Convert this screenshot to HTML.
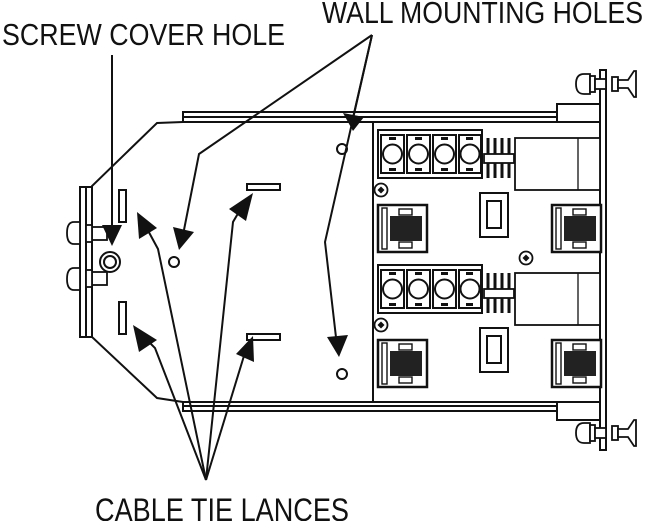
<!DOCTYPE html>
<html><head><style>
html,body{margin:0;padding:0;background:#fff;width:646px;height:521px;overflow:hidden}
svg{display:block}
text{font-family:"Liberation Sans",Arial,sans-serif;fill:#111}
</style></head><body>
<svg width="646" height="521" viewBox="0 0 646 521" xmlns="http://www.w3.org/2000/svg">
<defs>
<g id="term">
  <rect x="0" y="0" width="104" height="48" fill="#fff" stroke="#111" stroke-width="2"/>
  <g stroke="#111" stroke-width="2" fill="#fff">
    <rect x="3" y="5" width="23" height="38"/><circle cx="14.5" cy="24" r="9.5"/>
    <rect x="29" y="5" width="23" height="38"/><circle cx="40.5" cy="24" r="9.5"/>
    <rect x="55" y="5" width="23" height="38"/><circle cx="66.5" cy="24" r="9.5"/>
    <rect x="81" y="5" width="22" height="38"/><circle cx="92" cy="24" r="9.5"/>
  </g>
  <g fill="#111">
    <rect x="11" y="7" width="7" height="3"/><rect x="11" y="38" width="7" height="3"/>
    <rect x="37" y="7" width="7" height="3"/><rect x="37" y="38" width="7" height="3"/>
    <rect x="63" y="7" width="7" height="3"/><rect x="63" y="38" width="7" height="3"/>
    <rect x="88" y="7" width="7" height="3"/><rect x="88" y="38" width="7" height="3"/>
  </g>
  <g stroke="#111" stroke-width="3">
    <line x1="110" y1="8" x2="110" y2="48"/><line x1="117" y1="8" x2="117" y2="48"/>
    <line x1="124" y1="8" x2="124" y2="48"/><line x1="131" y1="8" x2="131" y2="48"/>
  </g>
  <rect x="106" y="24" width="30" height="9" fill="#fff" stroke="#111" stroke-width="1.8"/>
  <rect x="137" y="8" width="85" height="52" fill="#fff" stroke="#111" stroke-width="1.8"/>
  <line x1="200" y1="8" x2="200" y2="60" stroke="#111" stroke-width="1.3"/>
</g>
<g id="jack">
  <rect x="0" y="0" width="49" height="47" fill="#fff" stroke="#111" stroke-width="2.5"/>
  <rect x="4" y="3" width="5" height="41" fill="none" stroke="#111" stroke-width="1.4"/>
  <rect x="12" y="11" width="32" height="25" fill="#222"/>
  <rect x="21" y="4" width="13" height="6" fill="#fff" stroke="#111" stroke-width="1.4"/>
  <rect x="21" y="37" width="13" height="6" fill="#fff" stroke="#111" stroke-width="1.4"/>
</g>
<g id="knob" stroke="#111" stroke-width="1.8" fill="#fff">
  <path d="M-16 -10 l-6 0 q-8 0 -8 10 q0 10 8 10 l6 0 z"/>
  <rect x="-16" y="-8" width="5" height="16"/>
  <rect x="-11" y="-5" width="11" height="10"/>
  <rect x="6" y="-7" width="6" height="14"/>
  <path d="M12 -4 l10 0 l6 -9 l2 0 l0 26 l-2 0 l-6 -9 l-10 0 z"/>
</g>
<g id="screw"><circle r="6.5" fill="#fff" stroke="#111" stroke-width="1.8"/><path d="M0 -3.5 L3.5 0 L0 3.5 L-3.5 0Z" fill="#111"/></g>
</defs>

<g fill="none" stroke="#111" stroke-width="2">
  <rect x="183" y="112" width="375" height="5" fill="#fff"/>
  <line x1="183" y1="122" x2="600" y2="122"/>
  <rect x="183" y="406" width="375" height="5" fill="#fff"/>
  <line x1="183" y1="402" x2="600" y2="402"/>
  <rect x="557" y="104" width="43" height="18" fill="#fff"/>
  <rect x="557" y="402" width="43" height="18" fill="#fff"/>
  <path d="M183 122 L157 123 L92 186 L92 337 L157 398 L183 402" />
  <line x1="183" y1="112" x2="183" y2="122"/><line x1="183" y1="402" x2="183" y2="411"/>
  <rect x="80" y="187" width="12" height="150" fill="#fff"/>
  <line x1="86" y1="187" x2="86" y2="337"/>
  <line x1="373" y1="122" x2="373" y2="402"/>
  <rect x="600" y="70" width="6" height="380" fill="#fff"/>
  <circle cx="342" cy="149" r="5"/>
  <circle cx="174" cy="262" r="5"/>
  <circle cx="342" cy="374" r="5"/>
  <rect x="247" y="184" width="33" height="6"/>
  <rect x="247" y="334" width="33" height="6"/>
  <rect x="119" y="190" width="7" height="32"/>
  <rect x="119" y="302" width="7" height="32"/>
  <circle cx="110" cy="262" r="10"/><circle cx="110" cy="262" r="6"/>
</g>
<g stroke="#111" stroke-width="1.8" fill="#fff">
  <path d="M80 222 l-6 0 q-7 0 -7 11 q0 11 7 11 l6 0z"/>
  <rect x="92" y="227" width="15" height="13"/>
  <rect x="86" y="225" width="6" height="17"/>
  <path d="M80 268 l-6 0 q-7 0 -7 11 q0 11 7 11 l6 0z"/>
  <rect x="92" y="272" width="15" height="13"/>
  <rect x="86" y="270" width="6" height="17"/>
</g>
<use href="#knob" x="606" y="84"/>
<use href="#knob" x="606" y="433"/>

<use href="#term" x="378" y="130"/>
<use href="#term" x="378" y="265"/>
<use href="#jack" x="378" y="205"/>
<use href="#jack" x="378" y="340"/>
<use href="#jack" x="552" y="205"/>
<use href="#jack" x="552" y="340"/>
<use href="#screw" x="381" y="190"/>
<use href="#screw" x="526" y="258"/>
<use href="#screw" x="381" y="325"/>
<g fill="#fff" stroke="#111" stroke-width="2">
  <rect x="480" y="193" width="28" height="44"/><rect x="487" y="201" width="14" height="27"/>
  <rect x="480" y="328" width="28" height="44"/><rect x="487" y="336" width="14" height="27"/>
</g>

<g fill="none" stroke="#111" stroke-width="2">
  <line x1="112" y1="55" x2="112" y2="232"/>
  <line x1="372" y1="35" x2="352" y2="122"/>
  <polyline points="372,35 199,154 182,240"/>
  <polyline points="372,35 325,242 337,346"/>
  <polyline points="206,480 158,249 145,225"/>
  <polyline points="206,480 233,222 243,205"/>
  <polyline points="206,480 155,348 141,334"/>
  <polyline points="206,480 247,346"/>
</g>
<g fill="#111">
  <path d="M112 246 L102 225 L122 225Z"/>
  <path d="M353 131 L343 113 L364 117Z"/>
  <path d="M179 250 L173 227 L194 232Z"/>
  <path d="M339 357 L327 337 L348 335Z"/>
  <path d="M137 212 L157 228 L139 239Z"/>
  <path d="M253 193 L246 221 L229 209Z"/>
  <path d="M133 325 L157 340 L139 352Z"/>
  <path d="M253 336 L254 362 L236 354Z"/>
</g>

<text x="2" y="45" font-size="31" textLength="283" lengthAdjust="spacingAndGlyphs">SCREW COVER HOLE</text>
<text x="322" y="23" font-size="31" textLength="321" lengthAdjust="spacingAndGlyphs">WALL MOUNTING HOLES</text>
<text x="95" y="521" font-size="32" textLength="254" lengthAdjust="spacingAndGlyphs">CABLE TIE LANCES</text>
</svg>
</body></html>
